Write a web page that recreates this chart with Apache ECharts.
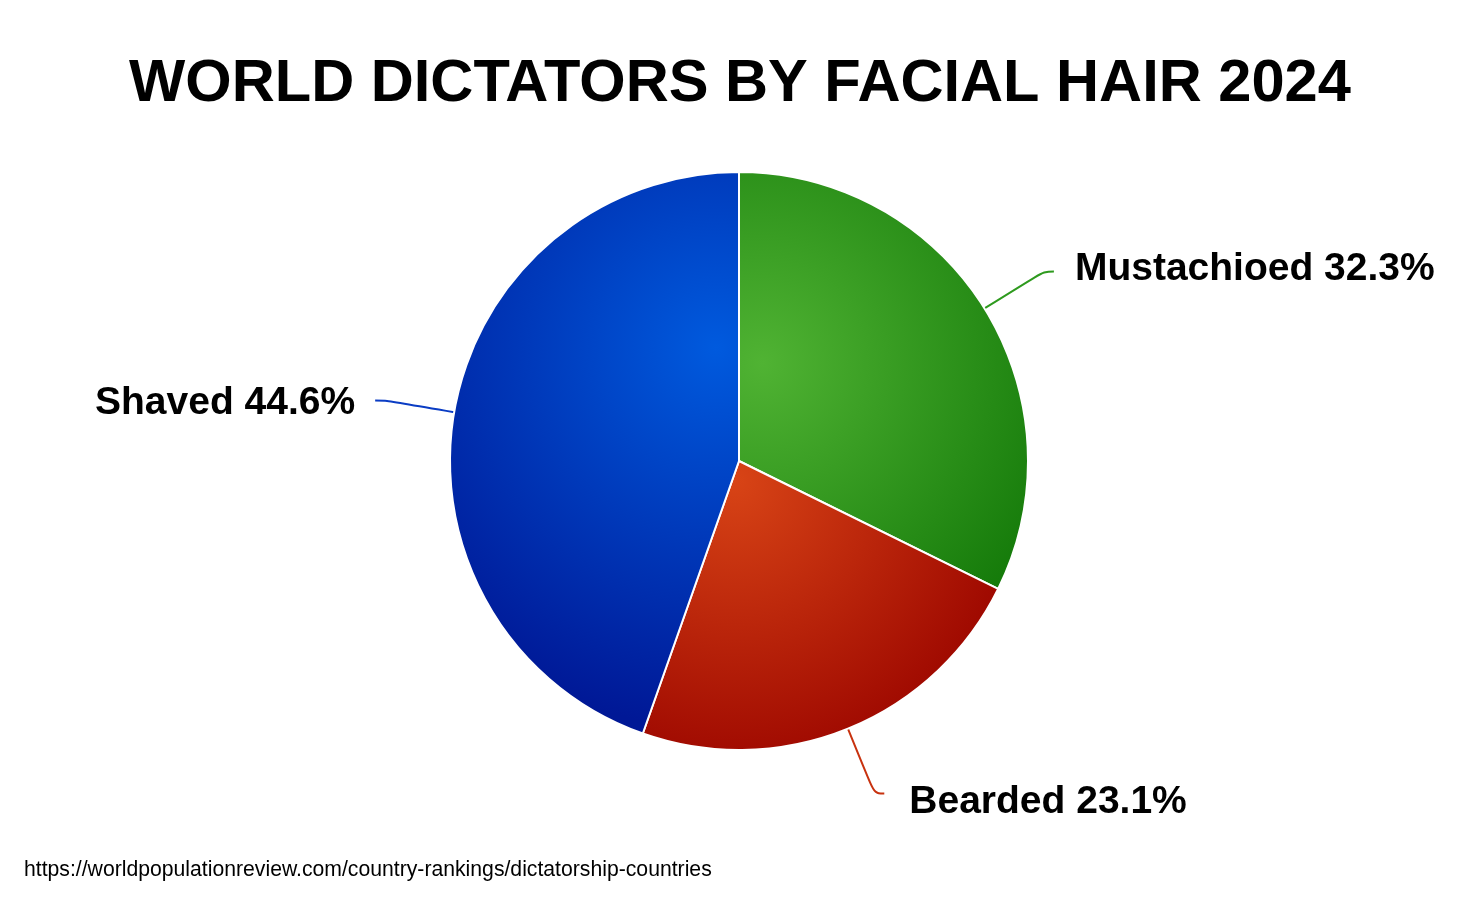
<!DOCTYPE html>
<html>
<head>
<meta charset="utf-8">
<script src="https://cdn.jsdelivr.net/npm/echarts@6/dist/echarts.min.js"></script>
<style>
  html, body { margin: 0; padding: 0; background: #fff; }
  #main { width: 1480px; height: 900px; }
</style>
</head>
<body>
<div id="main"></div>
<script>
var chartDom = document.getElementById('main');
var myChart = echarts.init(chartDom);
var option;

// data (percent of dictators)
var categories = ['Mustachioed', 'Bearded', 'Shaved'];
var shares = [32.3, 23.1, 44.6];
var lineColors = ['#2e9a1e', '#c8320f', '#0a3cc4'];
var sourceText = 'https://worldpopulationreview.com/country-rankings/dictatorship-countries';

// each slice gets its own radial shading
var fills = [
  new echarts.graphic.RadialGradient(762, 363, 340, [
    { offset: 0, color: '#50b333' },
    { offset: 1, color: '#127808' }
  ], true),
  new echarts.graphic.RadialGradient(735, 480, 290, [
    { offset: 0, color: '#d84416' },
    { offset: 1, color: '#9e0800' }
  ], true),
  new echarts.graphic.RadialGradient(716, 348, 380, [
    { offset: 0, color: '#005ade' },
    { offset: 1, color: '#001896' }
  ], true)
];
// small nudges so the text sits where it does in the original
var labelPads = [[0, 0, 5, 0], [18, 0, 0, 0], [5, 0, 0, 0]];
var labelGaps = [21, 25, 20];

var labelFont = {
  fontFamily: 'Liberation Sans, Arial, sans-serif',
  fontWeight: 'bold',
  fontSize: 39,
  color: '#000'
};

var pieData = categories.map(function (name, i) {
  var rich = {};
  rich.t = Object.assign({ padding: labelPads[i] }, labelFont);
  return {
    name: name,
    value: shares[i],
    itemStyle: { color: fills[i] },
    label: { distanceToLabelLine: labelGaps[i], rich: rich },
    labelLine: { lineStyle: { color: lineColors[i], width: 2 } }
  };
});

option = {
  backgroundColor: '#ffffff',
  animation: false,
  title: {
    text: 'WORLD DICTATORS BY FACIAL HAIR 2024',
    left: 'center',
    top: 50,
    textStyle: {
      fontFamily: 'Liberation Sans, Arial, sans-serif',
      fontWeight: 'bold',
      fontSize: 59.6,
      color: '#000'
    }
  },
  graphic: [
    {
      type: 'text',
      left: 24,
      top: 860,
      style: {
        text: sourceText,
        font: '21.2px "Liberation Sans", Arial, sans-serif',
        fill: '#000'
      }
    }
  ],
  series: [
    {
      type: 'pie',
      center: [739, 461],
      radius: 289,
      startAngle: 90,
      clockwise: true,
      avoidLabelOverlap: false,
      itemStyle: {
        borderColor: '#ffffff',
        borderWidth: 2
      },
      label: Object.assign({
        show: true,
        formatter: '{t|{b} {c}%}'
      }, labelFont),
      labelLine: {
        show: true,
        length: 70,
        length2: 10,
        smooth: 0.4
      },
      emphasis: { disabled: true },
      data: pieData
    }
  ]
};

option && myChart.setOption(option);
</script>
</body>
</html>
